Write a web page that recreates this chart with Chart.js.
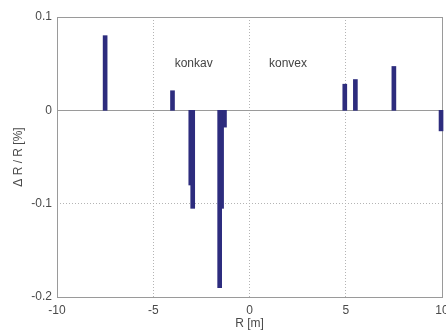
<!DOCTYPE html>
<html>
<head>
<meta charset="utf-8">
<script src="https://cdn.jsdelivr.net/npm/chart.js@4/dist/chart.umd.min.js"></script>
<style>
  html, body { margin: 0; padding: 0; background: #fff; }
  #wrap { width: 446px; height: 331px; position: relative; }
</style>
</head>
<body>
<div id="wrap"><canvas id="chart"></canvas></div>
<script>
// radius R [m] and relative deviation dR/R [%]
const rValues = [-7.5, -4, -3.05, -2.95, -1.55, -1.45, -1.3, 4.95, 5.5, 7.5, 9.95];
const dRValues = [0.08, 0.021, -0.08, -0.105, -0.19, -0.105, -0.018, 0.028, 0.033, 0.047, -0.022];

const xTicks = [-10, -5, 0, 5, 10];
const yTicks = [-0.2, -0.1, 0, 0.1];

const noteTexts = ['konkav', 'konvex'];
const noteX = [-2.9, 2.0];
const noteY = [0.05, 0.05];

const BAR = '#2d2c7e';
const AXIS = '#9a9a9a';
const GRID = '#b4b4b4';
const TEXT = '#4a4a4a';

// frame, solid zero line and the two region labels
const framePlugin = {
  id: 'frame',
  beforeDatasetsDraw(chart) {
    const { ctx, chartArea: a, scales } = chart;
    const y0 = scales.y.getPixelForValue(0);
    ctx.save();
    ctx.strokeStyle = AXIS;
    ctx.lineWidth = 1;
    ctx.beginPath();
    ctx.moveTo(a.left, Math.round(y0) + 0.5);
    ctx.lineTo(a.right, Math.round(y0) + 0.5);
    ctx.stroke();
    ctx.strokeRect(Math.round(a.left) + 0.5, Math.round(a.top) + 0.5, Math.round(a.right - a.left), Math.round(a.bottom - a.top));
    ctx.restore();
  },
  afterDatasetsDraw(chart) {
    const { ctx, scales } = chart;
    ctx.save();
    ctx.fillStyle = '#444';
    ctx.font = '12px "Liberation Sans", Arial, sans-serif';
    ctx.textAlign = 'center';
    ctx.textBaseline = 'middle';
    noteTexts.forEach((t, i) => {
      ctx.fillText(t, scales.x.getPixelForValue(noteX[i]), scales.y.getPixelForValue(noteY[i]));
    });
    ctx.restore();
  }
};

Chart.defaults.font.family = '"Liberation Sans", Arial, sans-serif';
Chart.defaults.font.size = 12;
Chart.defaults.color = TEXT;

new Chart(document.getElementById('chart'), {
  type: 'bar',
  data: {
    datasets: [{
      data: rValues.map((r, i) => ({ x: r, y: dRValues[i] })),
      backgroundColor: BAR,
      borderWidth: 0,
      barThickness: 4,
      clip: false,
    }],
  },
  options: {
    responsive: true, maintainAspectRatio: false, animation: false,
    layout: { padding: { top: 17, right: 4, left: 0, bottom: 0 } },
    plugins: { legend: { display: false }, tooltip: { enabled: false } },
    scales: {
      x: {
        type: 'linear', min: -10, max: 10, offset: false,
        afterBuildTicks: s => { s.ticks = xTicks.map(v => ({ value: v })); },
        ticks: { padding: 6, maxRotation: 0, callback: v => String(v) },
        grid: { offset: false, color: GRID, drawTicks: false, lineWidth: c => (c.tick && (c.tick.value === -5 || c.tick.value === 0 || c.tick.value === 5)) ? 1 : 0 },
        border: { display: false, dash: [1, 2] },
        title: { display: true, text: 'R [m]', padding: { top: 0, bottom: 0 } },
        afterFit: s => { s.height = 34; s.paddingLeft = 0; s.paddingRight = 0; },
      },
      y: {
        min: -0.2, max: 0.1,
        afterBuildTicks: s => { s.ticks = yTicks.map(v => ({ value: v })); },
        ticks: { padding: 5, callback: v => String(Math.round(v * 10) / 10) },
        grid: { color: GRID, drawTicks: false, lineWidth: c => (c.tick && Math.abs(c.tick.value + 0.1) < 1e-9) ? 1 : 0 },
        border: { display: false, dash: [1, 2] },
        title: { display: true, text: 'Δ R / R [%]', padding: { top: 11, bottom: 0 } },
        afterFit: s => { s.width = 57; s.paddingTop = 0; s.paddingBottom = 0; },
      },
    },
  },
  plugins: [framePlugin],
});
</script>
</body>
</html>
